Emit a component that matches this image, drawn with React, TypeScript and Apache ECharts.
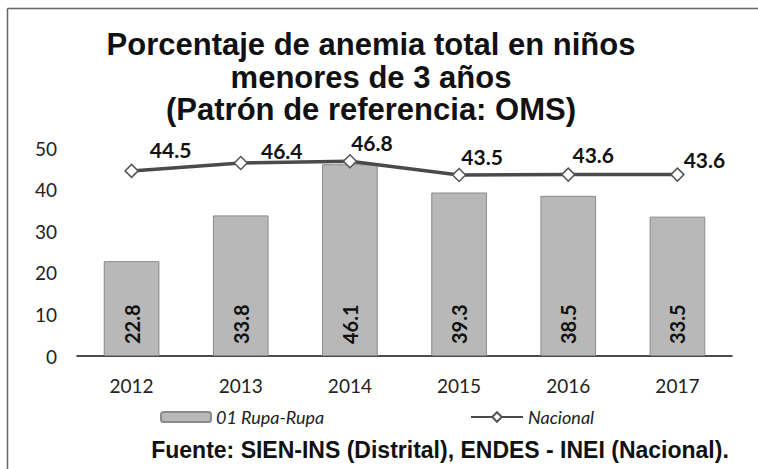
import React, { useEffect, useRef } from "react";
import * as echarts from "echarts";

const titleLines = [
  "Porcentaje de anemia total en niños",
  "menores de 3 años",
  "(Patrón de referencia: OMS)",
];
const footer = "Fuente: SIEN-INS (Distrital), ENDES - INEI (Nacional).";
const years = ["2012", "2013", "2014", "2015", "2016", "2017"];
const rupaRupa = [22.8, 33.8, 46.1, 39.3, 38.5, 33.5];
const nacional = [44.5, 46.4, 46.8, 43.5, 43.6, 43.6];
const barName = "01 Rupa-Rupa";
const lineName = "Nacional";
// label offsets (styling) for the line data labels
const lineLabelOffsets = [
  [39, -21],
  [41, -12],
  [22, -19],
  [23, -19],
  [25, -20],
  [27, -15],
];

const SANS = "Lato, 'Open Sans', sans-serif";
const ARIAL = "'Liberation Sans', Arial, sans-serif";

export default function App() {
  const ref = useRef<HTMLDivElement>(null);
  useEffect(() => {
    document.body.style.margin = "0";
    if (!ref.current) return;
    const chart = echarts.init(ref.current, undefined, { renderer: "svg" });
    const titleY = [44, 77, 109];
    chart.setOption({
      animation: false,
      backgroundColor: "#ffffff",
      grid: { left: 77, right: 26, top: 148, bottom: 113, containLabel: false },
      xAxis: {
        type: "category",
        data: years,
        axisLine: { show: true, lineStyle: { color: "#111", width: 1.5 } },
        axisTick: { show: false },
        axisLabel: { color: "#222", fontSize: 19, fontFamily: SANS, margin: 20 },
      },
      yAxis: {
        type: "value",
        min: 0,
        max: 50,
        interval: 10,
        axisLine: { show: false },
        axisTick: { show: false },
        splitLine: { show: false },
        axisLabel: { color: "#222", fontSize: 19, fontFamily: SANS, margin: 20 },
      },
      legend: [
        {
          data: [barName],
          left: 155,
          top: 403,
          itemWidth: 50,
          itemHeight: 10,
          itemGap: 4,
          textStyle: { fontStyle: "italic", fontSize: 18, fontFamily: SANS, color: "#222" },
        },
        {
          data: [lineName],
          left: 465,
          top: 403,
          itemWidth: 52,
          itemHeight: 12,
          textStyle: { fontStyle: "italic", fontSize: 18, fontFamily: SANS, color: "#222" },
        },
      ],
      series: [
        {
          name: barName,
          type: "bar",
          data: rupaRupa,
          barWidth: "51%",
          itemStyle: { color: "#b8b8b8", borderColor: "#8a8a8a", borderWidth: 1 },
          label: {
            show: true,
            position: "insideBottom",
            rotate: 90,
            align: "left",
            verticalAlign: "middle",
            distance: 12,
            fontSize: 20,
            fontWeight: "bold",
            fontFamily: SANS,
            color: "#111",
            formatter: (p: any) => p.value.toFixed(1),
          },
        },
        {
          name: lineName,
          type: "line",
          data: nacional.map((v, i) => ({
            value: v,
            label: { offset: lineLabelOffsets[i] },
          })),
          symbol: "diamond",
          symbolSize: 13,
          lineStyle: { color: "#4a4a4a", width: 3.5 },
          itemStyle: { color: "#ffffff", borderColor: "#555", borderWidth: 1.5 },
          label: {
            show: true,
            position: "inside",
            fontSize: 21,
            fontWeight: "bold",
            fontFamily: SANS,
            color: "#111",
            formatter: (p: any) => Number(p.value).toFixed(1),
          },
          z: 3,
        },
      ],
      graphic: [
        {
          type: "line",
          shape: { x1: 7.5, y1: 8.5, x2: 758, y2: 8.5 },
          style: { stroke: "#666", lineWidth: 1.5 },
          silent: true,
        },
        {
          type: "line",
          shape: { x1: 7.5, y1: 8.5, x2: 7.5, y2: 469 },
          style: { stroke: "#666", lineWidth: 1.5 },
          silent: true,
        },
        ...titleLines.map((t, i) => ({
          type: "text",
          x: 371,
          y: titleY[i],
          style: {
            text: t,
            textAlign: "center",
            textVerticalAlign: "middle",
            fontSize: 31,
            fontWeight: "bold",
            fontFamily: ARIAL,
            fill: "#111",
          },
        })),
        {
          type: "text",
          x: 440,
          y: 450,
          style: {
            text: footer,
            textAlign: "center",
            textVerticalAlign: "middle",
            fontSize: 23,
            fontWeight: "bold",
            fontFamily: ARIAL,
            fill: "#111",
          },
        },
      ],
    });
    return () => chart.dispose();
  }, []);
  return <div ref={ref} style={{ width: 758, height: 469 }} />;
}
